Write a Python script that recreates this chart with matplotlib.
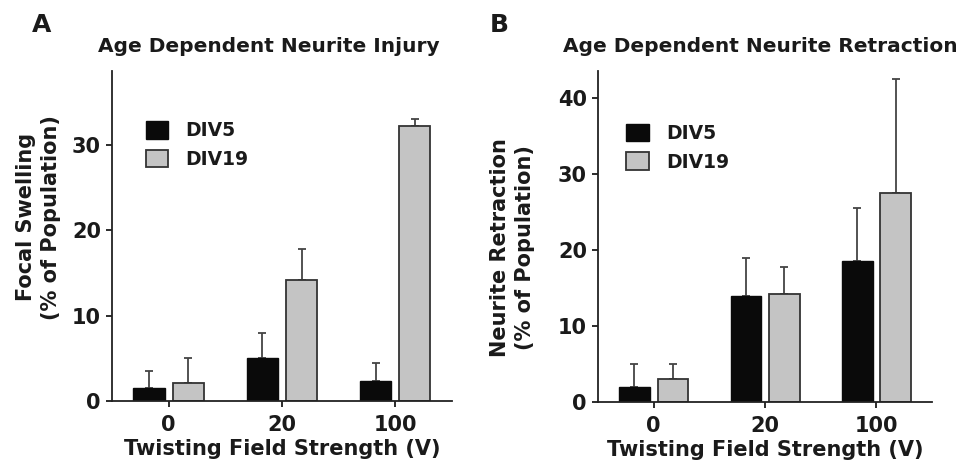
import matplotlib
matplotlib.use('Agg')
import matplotlib.pyplot as plt
import numpy as np

plt.rcParams.update({
    'font.family': 'DejaVu Sans',
    'font.weight': 'bold',
    'font.size': 15,
    'axes.linewidth': 1.3,
    'axes.edgecolor': '#222222',
    'text.color': '#1a1a1a',
    'axes.labelcolor': '#1a1a1a',
    'xtick.color': '#1a1a1a',
    'ytick.color': '#1a1a1a',
})

# 資料
groups = ['0', '20', '100']

injury_div5 = [1.5, 5.0, 2.3]
injury_div5_err = [2.0, 3.0, 2.1]
injury_div19 = [2.1, 14.2, 32.2]
injury_div19_err = [2.9, 3.6, 0.9]

retract_div5 = [2.0, 13.9, 18.6]
retract_div5_err = [3.0, 5.1, 7.0]
retract_div19 = [3.0, 14.2, 27.5]
retract_div19_err = [2.0, 3.6, 15.1]

fig = plt.figure(figsize=(9.63, 4.71), dpi=100)
axA = fig.add_axes([0.1163, 0.1486, 0.353, 0.7006])
axB = fig.add_axes([0.621, 0.147, 0.347, 0.702])


def draw_panel(ax, d5, e5, d19, e19, ylim, yticks, title, ylabel, title_x, label_xy, leg_anchor):
    x = np.arange(len(groups))
    off = 0.173
    w = 0.275
    ax.bar(x - off, d5, w, color='#0a0a0a', edgecolor='#0a0a0a', linewidth=1, label='DIV5', zorder=2)
    ax.bar(x + off, d19, w, color='#c4c4c4', edgecolor='#333333', linewidth=1.3, label='DIV19', zorder=2)
    ax.errorbar(x - off, d5, yerr=[np.zeros(3), e5], fmt='none', ecolor='#444444',
                elinewidth=1.3, capsize=3, capthick=1.3, zorder=1)
    ax.errorbar(x + off, d19, yerr=[np.zeros(3), e19], fmt='none', ecolor='#444444',
                elinewidth=1.3, capsize=3, capthick=1.3, zorder=1)

    ax.set_xlim(-0.5, 2.5)
    ax.set_ylim(*ylim)
    ax.set_xticks(x)
    ax.set_xticklabels(groups)
    ax.set_yticks(yticks)
    ax.spines['top'].set_visible(False)
    ax.spines['right'].set_visible(False)
    ax.tick_params(axis='both', direction='out', length=4, width=1.3, pad=4)
    ax.tick_params(axis='x', pad=6)

    ax.set_title(title, fontsize=14.5, fontweight='bold', x=title_x, pad=14)
    ax.set_xlabel('Twisting Field Strength (V)', fontsize=15, fontweight='bold', labelpad=3)
    ax.set_ylabel(ylabel, fontsize=15, fontweight='bold', linespacing=1.3)
    ax.yaxis.set_label_coords(*label_xy)

    ax.legend(loc='upper left', bbox_to_anchor=leg_anchor, frameon=False, fontsize=13.5,
              handlelength=1.2, handleheight=1.05, handletextpad=0.9, labelspacing=0.5,
              borderaxespad=0, borderpad=0)


draw_panel(axA, injury_div5, injury_div5_err, injury_div19, injury_div19_err,
           (0, 38.7), [0, 10, 20, 30], 'Age Dependent Neurite Injury',
           'Focal Swelling\n(% of Population)', 0.46, (-0.15, 0.557), (0.1, 0.848))
draw_panel(axB, retract_div5, retract_div5_err, retract_div19, retract_div19_err,
           (0, 43.6), [0, 10, 20, 30, 40], 'Age Dependent Neurite Retraction',
           'Neurite Retraction\n(% of Population)', 0.485, (-0.19, 0.465), (0.085, 0.84))

fig.text(32 / 963, 1 - 32 / 471, 'A', fontsize=18, fontweight='bold', va='baseline')
fig.text(490 / 963, 1 - 32 / 471, 'B', fontsize=18, fontweight='bold', va='baseline')

plt.savefig('out.png', dpi=100)
plt.close()
